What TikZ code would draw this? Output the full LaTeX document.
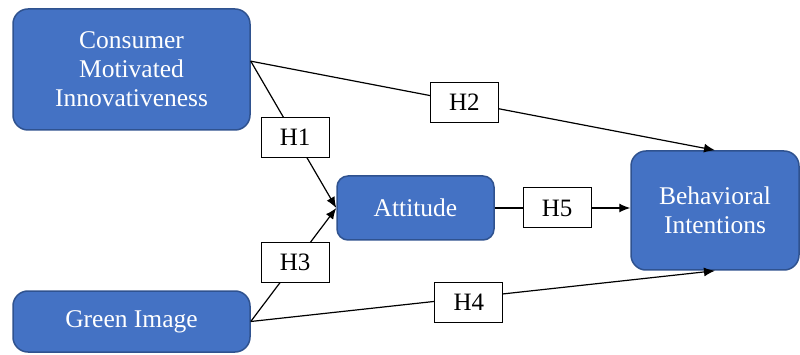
\documentclass[tikz,border=0pt]{standalone}
\usepackage{fontspec}
\setmainfont{Liberation Serif}
\usetikzlibrary{positioning,arrows.meta}
\definecolor{boxblue}{RGB}{68,114,196}
\definecolor{boxline}{RGB}{47,82,143}
\tikzset{
  construct/.style={draw=boxline, fill=boxblue, line width=1.5pt, rounded corners=15pt,
    text=white, align=center, inner sep=0pt, font=\fontsize{25.5}{29}\selectfont},
  hyp/.style={draw, fill=white, line width=1pt, minimum width=68pt, minimum height=40pt,
    inner sep=0pt, font=\fontsize{25}{29}\selectfont},
  link/.style={line width=1.2pt, -{Latex[length=11pt,width=9pt]}}
}
\begin{document}
\begin{tikzpicture}[x=1pt,y=-1pt]
    \useasboundingbox (0,0) rectangle (800,355);

    % Define nodes
    \node[construct, minimum width=237pt, minimum height=121pt] (cmi) at (131.5,69.5) {Consumer\\Motivated\\Innovativeness};
    \node[construct, minimum width=237pt, minimum height=61pt] (gi) at (131.5,321.5) {Green Image};
    \node[construct, minimum width=157pt, minimum height=64pt, rounded corners=11pt] (att) at (415.5,208) {Attitude};
    \node[construct, minimum width=168pt, minimum height=119pt] (bi) at (715,210.5) {Behavioral\\Intentions};

    % Connect nodes
    \draw[link] (cmi.4) -- node[hyp, pos=0.52] (h1) {H1} (att.west);
    \draw[link] (cmi.4) -- node[hyp, pos=0.46] (h2) {H2} (bi.north);
    \draw[link] (gi.east) -- node[hyp, pos=0.52] (h3) {H3} (att.west);
    \draw[link] (gi.east) -- node[hyp, pos=0.47, yshift=-5pt] (h4) {H4} (bi.south);
    \draw[link] (att.east) -- node[hyp, pos=0.46] (h5) {H5} (att.east -| bi.west);
\end{tikzpicture}
\end{document}
